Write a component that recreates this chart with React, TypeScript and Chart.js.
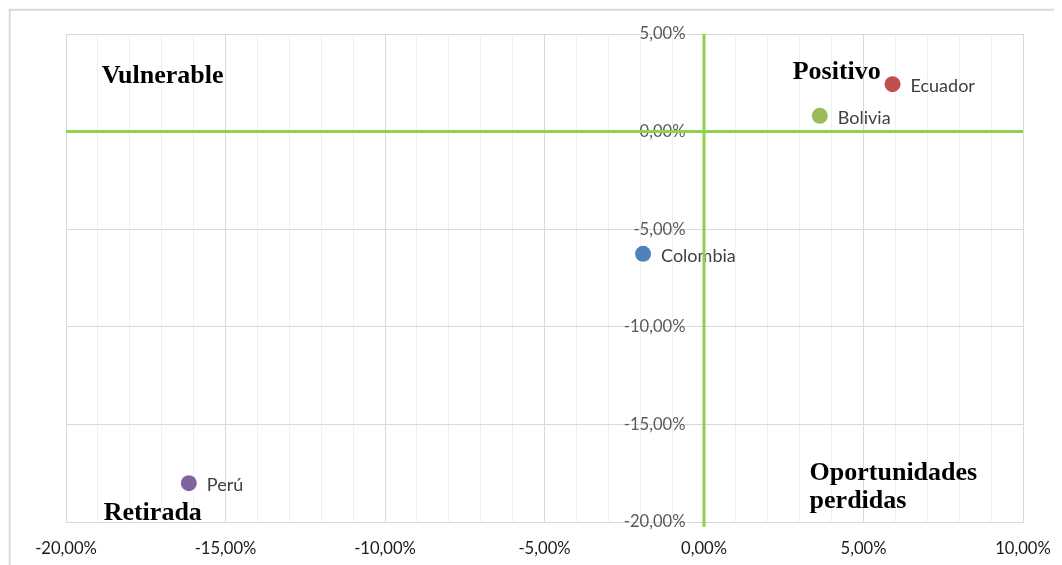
import React, { useEffect, useRef } from 'react';
import { Chart, registerables } from 'chart.js';

Chart.register(...registerables);

// ---- data ----
const countries = ['Ecuador', 'Bolivia', 'Colombia', 'Perú'];
const xValues = [5.91, 3.63, -1.91, -16.15];
const yValues = [2.43, 0.81, -6.26, -18.01];
const pointColors = ['#C0504D', '#9BBB59', '#4F81BD', '#8064A2'];

// quadrant captions (anchored in data units: left edge, baseline)
const quadrantNames = ['Vulnerable', 'Positivo', 'Retirada', 'Oportunidades', 'perdidas'];
const quadrantX = [-18.88, 2.78, -18.82, 3.31, 3.31];
const quadrantY = [2.47, 2.69, -19.91, -17.84, -19.28];

const xMin = -20;
const xMax = 10;
const yMin = -20;
const yMax = 5;
const xMinorStep = 1;
const labelStep = 5;
// the vertical axis labels sit just left of the x = 0 line
const yAxisLabelAnchor = -0.58;

const fmt = (v: number) => (Math.abs(v) < 1e-9 ? 0 : v).toFixed(2).replace('.', ',') + '%';

const TICK_FONT = 'Lato';

const framePlugin = {
  id: 'frame',
  beforeDraw(chart: any) {
    const { ctx, width, height } = chart;
    ctx.save();
    ctx.fillStyle = '#ffffff';
    ctx.fillRect(0, 0, width, height);
    ctx.strokeStyle = '#d9d9d9';
    ctx.lineWidth = 2;
    ctx.beginPath();
    ctx.moveTo(1.7, height);
    ctx.lineTo(1.7, 1.7);
    ctx.lineTo(width, 1.7);
    ctx.stroke();
    ctx.restore();
  },
};

const labelsPlugin = {
  id: 'pointLabels',
  afterDatasetsDraw(chart: any) {
    const { ctx } = chart;
    const meta = chart.getDatasetMeta(0);
    ctx.save();
    ctx.font = `18px ${TICK_FONT}`;
    ctx.fillStyle = '#404040';
    ctx.textAlign = 'left';
    ctx.textBaseline = 'middle';
    meta.data.forEach((el: any, i: number) => {
      ctx.fillText(countries[i], el.x + 18, el.y + 2);
    });
    ctx.restore();
  },
  afterDraw(chart: any) {
    const { ctx, chartArea, scales } = chart;
    const xs = scales.x;
    const ys = scales.y;
    ctx.save();
    ctx.font = 'bold 26px "Liberation Serif"';
    ctx.fillStyle = '#000000';
    ctx.textAlign = 'left';
    ctx.textBaseline = 'alphabetic';
    quadrantNames.forEach((t, i) => {
      ctx.fillText(t, xs.getPixelForValue(quadrantX[i]), ys.getPixelForValue(quadrantY[i]));
    });
    // green quadrant dividers
    ctx.strokeStyle = '#92D050';
    ctx.lineWidth = 3;
    const y0 = ys.getPixelForValue(0);
    const x0 = xs.getPixelForValue(0);
    ctx.beginPath();
    ctx.moveTo(chartArea.left, y0);
    ctx.lineTo(chartArea.right, y0);
    ctx.moveTo(x0, chartArea.top);
    ctx.lineTo(x0, chartArea.bottom + 5);
    ctx.stroke();
    ctx.restore();
  },
};

export default function App() {
  const ref = useRef<HTMLCanvasElement | null>(null);

  useEffect(() => {
    document.documentElement.style.overflow = 'hidden';
    const canvas = ref.current;
    if (!canvas) return;
    const chart = new Chart(canvas, {
      type: 'scatter',
      data: {
        datasets: [
          {
            label: 'Países',
            data: countries.map((_, i) => ({ x: xValues[i], y: yValues[i] })),
            backgroundColor: pointColors,
            borderColor: pointColors,
            borderWidth: 0,
            pointRadius: 8,
            pointHoverRadius: 8,
          },
        ],
      },
      options: {
        animation: false,
        responsive: false,
        maintainAspectRatio: false,
        layout: { autoPadding: false, padding: { left: 58, top: 26, right: 39, bottom: 43 } } as any,
        plugins: {
          legend: { display: false },
          tooltip: { enabled: false },
          title: { display: false },
        },
        scales: {
          x: {
            type: 'linear',
            min: xMin,
            max: xMax,
            position: { y: yMin } as any,
            border: { display: true, color: '#d9d9d9', width: 1 },
            grid: {
              drawTicks: true,
              tickLength: 17,
              tickColor: 'rgba(0,0,0,0)',
              color: (ctx: any) =>
                ctx.tick && Math.abs(ctx.tick.value % labelStep) < 1e-9 ? '#d9d9d9' : '#f0f0f0',
            },
            ticks: {
              stepSize: xMinorStep,
              autoSkip: false,
              maxRotation: 0,
              padding: 0,
              color: '#1a1a1a',
              font: { family: TICK_FONT, size: 16.6 },
              callback: (v: any) => (Math.abs(Number(v) % labelStep) < 1e-9 ? fmt(Number(v)) : ''),
            },
          },
          y: {
            type: 'linear',
            min: yMin,
            max: yMax,
            position: { x: yAxisLabelAnchor } as any,
            border: { display: false },
            grid: { drawTicks: false, color: '#d9d9d9' },
            ticks: {
              stepSize: labelStep,
              padding: 0,
              color: '#595959',
              font: { family: TICK_FONT, size: 16.6 },
              callback: (v: any) => fmt(Number(v)),
            },
          },
        },
      },
      plugins: [framePlugin, labelsPlugin],
    });
    return () => chart.destroy();
  }, []);

  return (
    <div style={{ width: 1054, height: 557 }}>
      <canvas ref={ref} width={1054} height={557} style={{ display: 'block' }} />
    </div>
  );
}
